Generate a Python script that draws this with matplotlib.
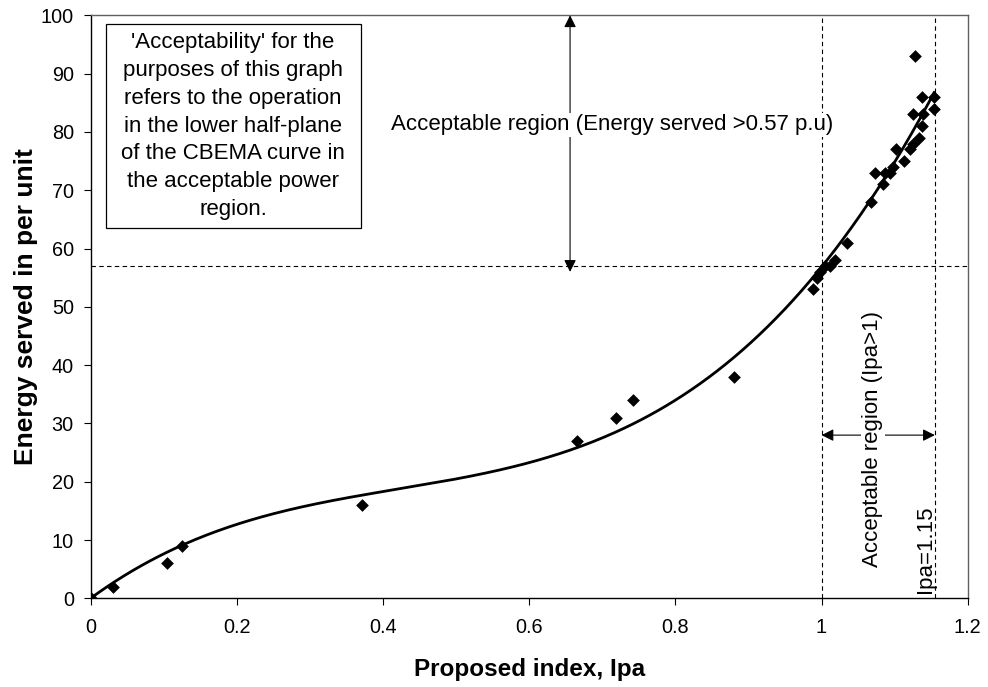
import numpy as np
import matplotlib
matplotlib.use("Agg")
import matplotlib.pyplot as plt
from matplotlib.patches import Rectangle

plt.rcParams['font.family'] = ['Liberation Sans', 'DejaVu Sans']

ipa = [0.0, 0.031, 0.104, 0.125, 0.371, 0.666, 0.719, 0.742, 0.880,
       0.988, 0.994, 0.998, 1.005, 1.011, 1.018, 1.035, 1.067, 1.073, 1.084,
       1.087, 1.093, 1.098, 1.102, 1.113, 1.121, 1.125, 1.125, 1.128, 1.134,
       1.137, 1.138, 1.139, 1.154, 1.154]
energy = [0, 2, 6, 9, 16, 27, 31, 34, 38,
          53, 55, 56, 57, 57, 58, 61, 68, 73, 71,
          73, 73, 74, 77, 75, 77, 78, 83, 93, 79,
          86, 81, 83, 84, 86]

energy_threshold = 57
ipa_limits = [1.0, 1.155]
xticks = [0, 0.2, 0.4, 0.6, 0.8, 1, 1.2]
xticklabels = ["0", "0.2", "0.4", "0.6", "0.8", "1", "1.2"]
yticks = list(range(0, 101, 10))

fig = plt.figure(figsize=(9.88, 6.87), dpi=100)
ax = fig.add_axes([0.0916, 0.129, 0.8879, 0.8487])

# polynomial trendline (order 3, intercept 0) fitted to the data
xa = np.array(ipa)
ya = np.array(energy)
A = np.vstack([xa, xa**2, xa**3]).T
c1, c2, c3 = np.linalg.lstsq(A, ya, rcond=None)[0]
xs = np.linspace(0, xa.max(), 300)
ax.plot(xs, c1*xs + c2*xs**2 + c3*xs**3, color='black', lw=2, zorder=3)

ax.scatter(ipa, energy, marker='D', s=42, color='black', zorder=4, linewidths=0)

dash = (0, (4, 3))
ax.axhline(energy_threshold, color='black', lw=0.8, linestyle=dash, zorder=2)
for xv in ipa_limits:
    ax.axvline(xv, color='black', lw=0.8, linestyle=dash, zorder=2)

astyle = '<|-|>,head_length=0.6,head_width=0.3'
fs = 16

# vertical arrow: energy region
ax.annotate('', xy=(0.656, 100), xytext=(0.656, 56),
            arrowprops=dict(arrowstyle=astyle, color='black', lw=0.8,
                            shrinkA=0, shrinkB=0, mutation_scale=12))
ax.text(0.713, 81.2, 'Acceptable region (Energy served >0.57 p.u)',
        ha='center', va='center', fontsize=fs,
        bbox=dict(facecolor='white', edgecolor='none', pad=1), zorder=5)

# horizontal arrow: Ipa region
ax.annotate('', xy=(ipa_limits[0], 28.0), xytext=(ipa_limits[1], 28.0),
            arrowprops=dict(arrowstyle=astyle, color='black', lw=0.8,
                            shrinkA=0, shrinkB=0, mutation_scale=12))
ax.text(1.07, 27.3, 'Acceptable region (Ipa>1)', rotation=90,
        ha='center', va='center', fontsize=fs,
        bbox=dict(facecolor='white', edgecolor='none', pad=1), zorder=5)
ax.text(1.142, 0.9, 'Ipa=1.15', rotation=90, ha='center', va='bottom',
        fontsize=fs, zorder=5)

# explanatory text box
ax.add_patch(Rectangle((0.0208, 63.5), 0.3488, 35.0, facecolor='white',
                       edgecolor='black', lw=0.9, zorder=5))
ax.text(0.195, 81.0,
        "'Acceptability' for the\npurposes of this graph\nrefers to the operation\n"
        "in the lower half-plane\nof the CBEMA curve in\nthe acceptable power\nregion.",
        ha='center', va='center', fontsize=fs, linespacing=1.42, zorder=6)

ax.set_xlim(0, 1.2)
ax.set_ylim(0, 100)
ax.set_xticks(xticks)
ax.set_xticklabels(xticklabels)
ax.set_yticks(yticks)
ax.tick_params(direction='out', length=5, width=0.8, labelsize=14.3, color='black')
ax.tick_params(axis='x', pad=9)
ax.tick_params(axis='y', pad=7)
ax.set_xlabel('Proposed index, Ipa', fontsize=17.5, fontweight='bold')
ax.xaxis.set_label_coords(0.5, -0.103)
ax.set_ylabel('Energy served in per unit', fontsize=19, fontweight='bold')
ax.yaxis.set_label_coords(-0.06, 0.5)

for side in ['left', 'bottom']:
    ax.spines[side].set_color('black')
    ax.spines[side].set_linewidth(1.0)
for side in ['top', 'right']:
    ax.spines[side].set_color('#606060')
    ax.spines[side].set_linewidth(1.0)

fig.savefig('out.png', dpi=100)
